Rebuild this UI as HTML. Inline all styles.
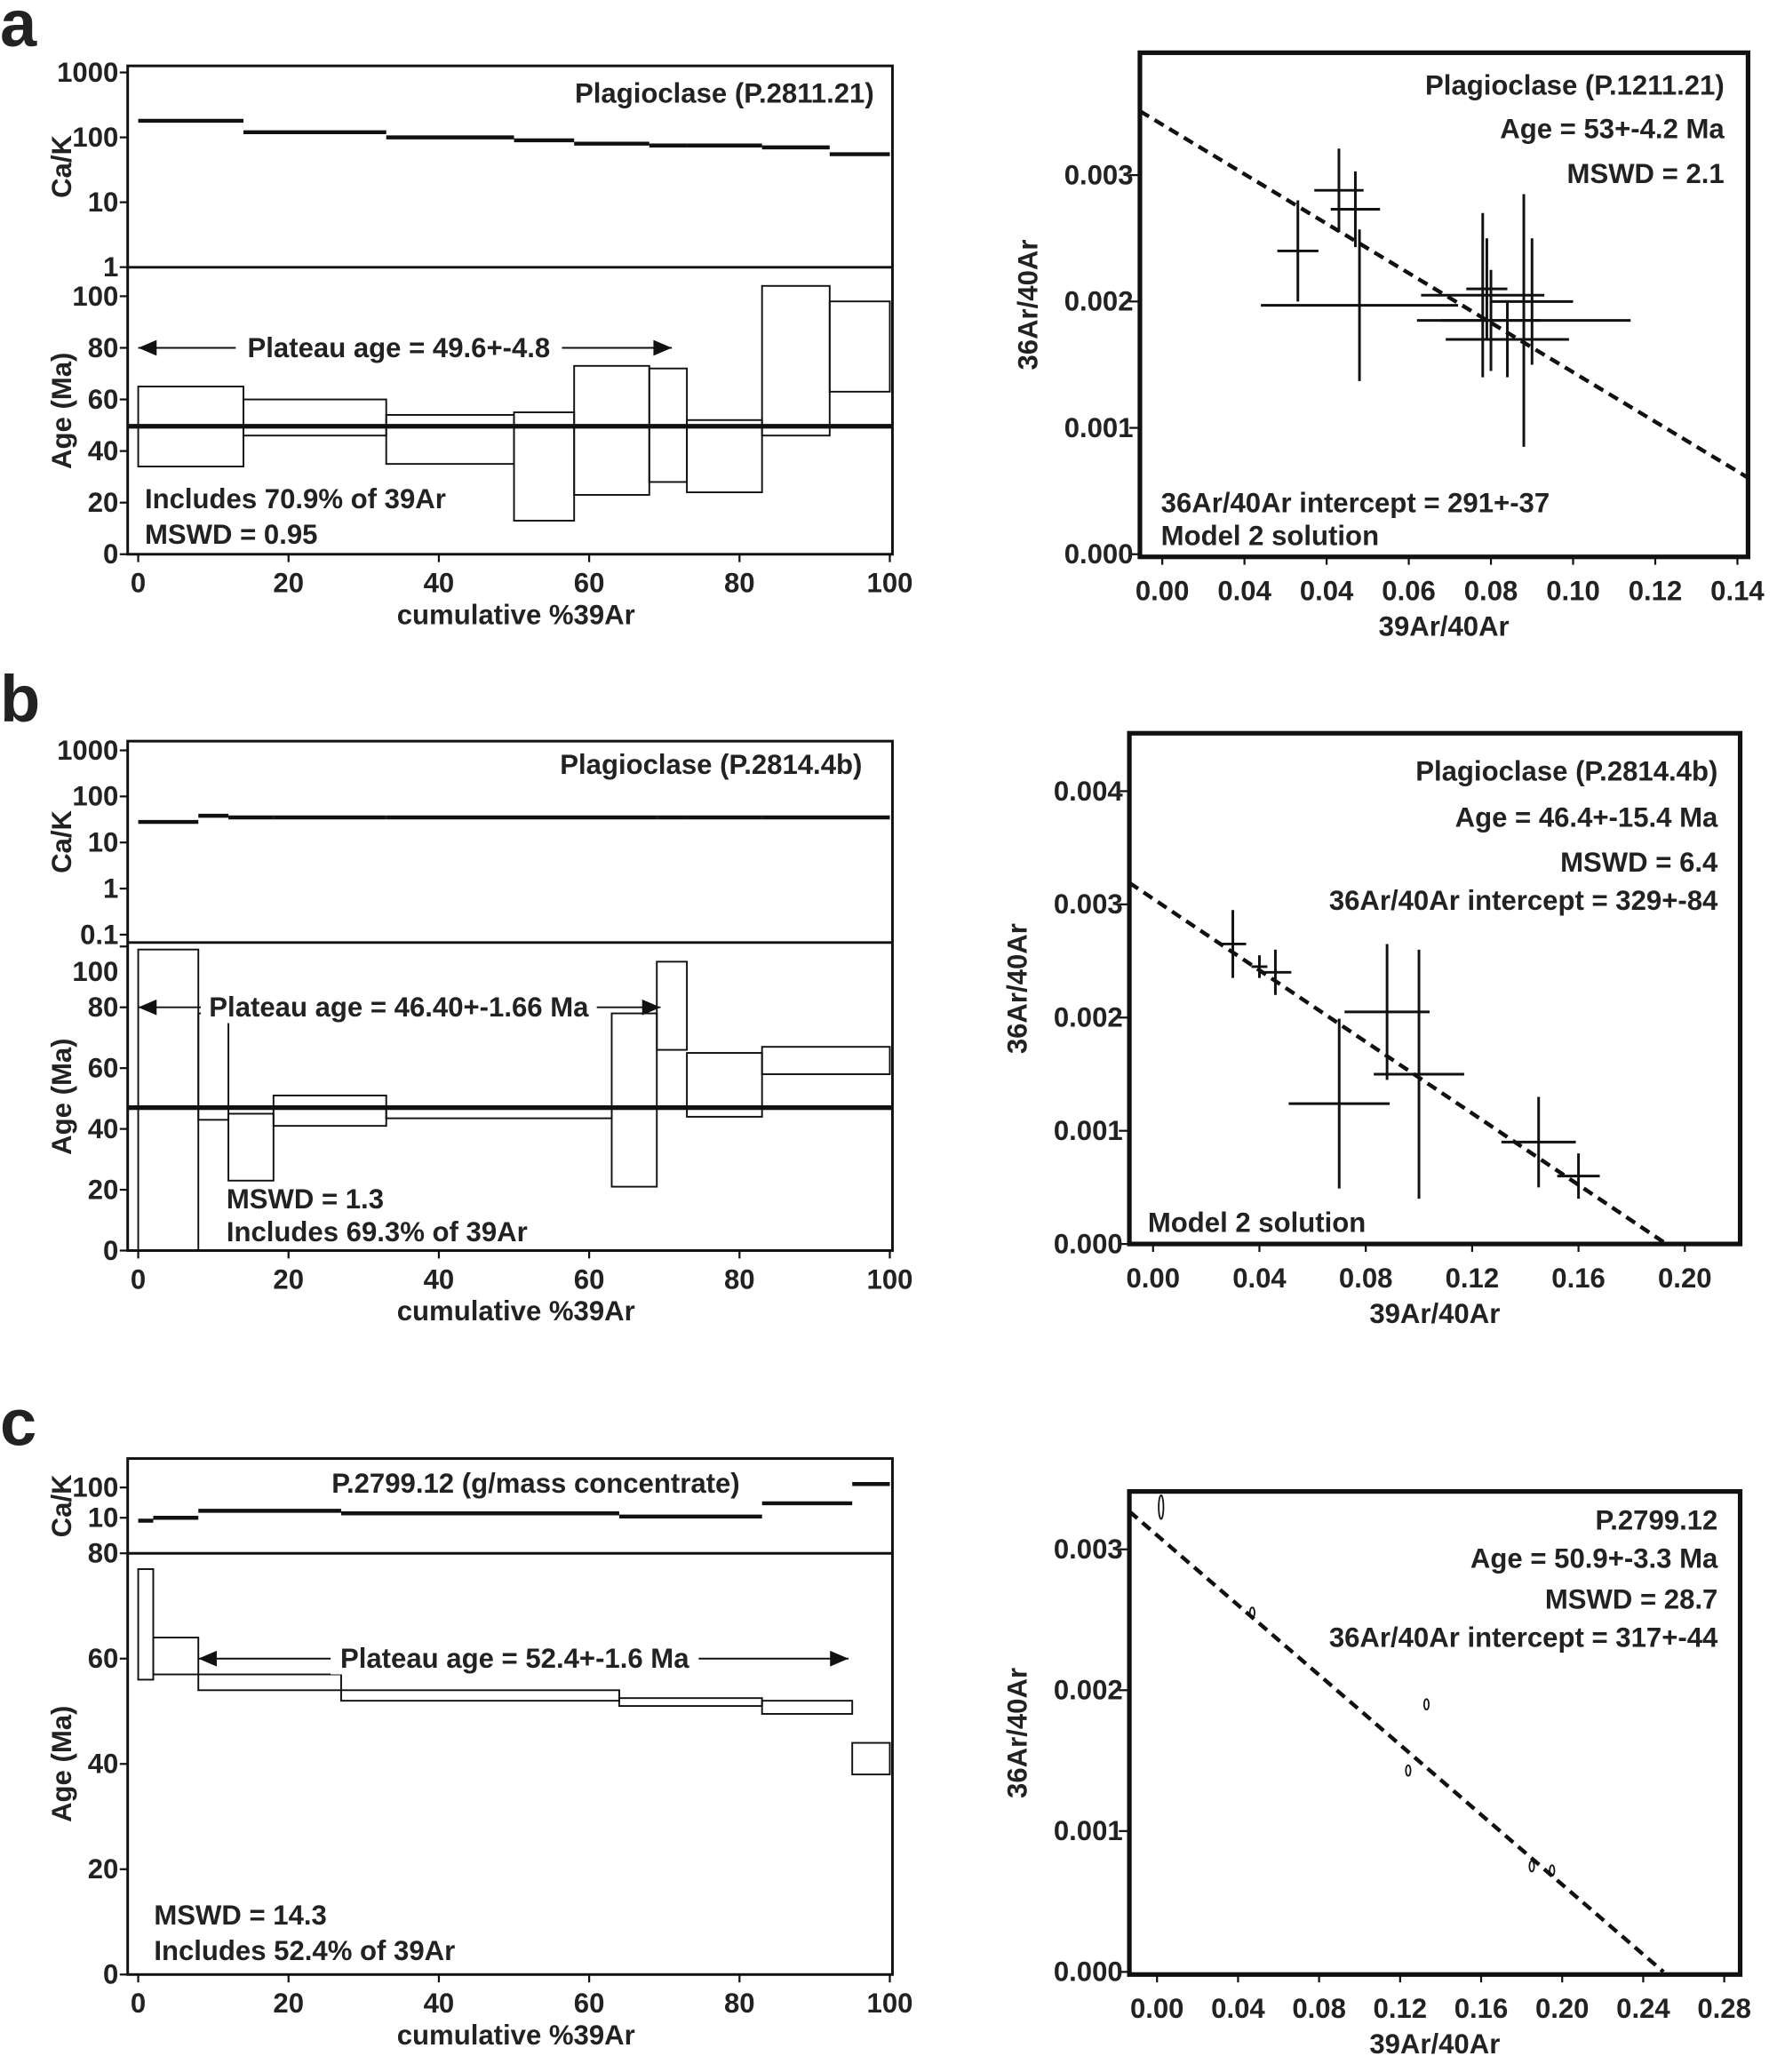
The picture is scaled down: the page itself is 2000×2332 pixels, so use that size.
<!DOCTYPE html>
<html><head><meta charset="utf-8"><style>
html,body{margin:0;padding:0;background:#fff}
svg{display:block}
text{font-family:"Liberation Sans",sans-serif;font-weight:bold;fill:#222}
</style></head><body>
<svg id="fig" width="2000" height="2332" viewBox="0 0 1350 1574" xmlns="http://www.w3.org/2000/svg"></svg>
<script>
// ---------- DATA ----------
// Panel a
const aStepFrom=[0,14,33,50,58,68,73,83,92];
const aStepTo=[14,33,50,58,68,73,83,92,100];
const aAgeLow=[34,46,35,13,23,28,24,46,63];
const aAgeHigh=[65,60,54,55,73,72,52,104,98];
const aCaK=[180,120,100,90,80,75,75,70,55];
const aPlateau=49.6;
const aIsoX=[0.033,0.043,0.047,0.048,0.078,0.079,0.080,0.084,0.088,0.090];
const aIsoXerr=[0.005,0.006,0.006,0.024,0.015,0.005,0.012,0.015,0.026,0.010];
const aIsoY=[0.0024,0.00288,0.00273,0.00197,0.00205,0.0021,0.00185,0.0017,0.00185,0.002];
const aIsoYerr=[0.0004,0.00033,0.0003,0.0006,0.00065,0.0004,0.0004,0.0003,0.001,0.0005];
const aLine=[0.00340,-0.0196];
// Panel b
const bStepFrom=[0,8,12,18,33,63,69,73,83];
const bStepTo=[8,12,18,33,63,69,73,83,100];
const bAgeLow=[0,43,23,41,43.5,21,66,44,58];
const bAgeHigh=[99,78,45,51,47,78,95,65,67];
const bCaK=[28,38,35,35,35,35,35,35,35];
const bPlateau=47;
const bIsoX=[0.030,0.040,0.046,0.070,0.088,0.100,0.145,0.160];
const bIsoXerr=[0.005,0.003,0.006,0.019,0.016,0.017,0.014,0.008];
const bIsoY=[0.00265,0.00245,0.0024,0.00124,0.00205,0.0015,0.0009,0.0006];
const bIsoYerr=[0.0003,0.0001,0.0002,0.00075,0.0006,0.0011,0.0004,0.0002];
const bLine=[0.00305,-0.0158];
// Panel c
const cStepFrom=[0,2,8,27,64,83,95];
const cStepTo=[2,8,27,64,83,95,100];
const cAgeLow=[56,57,54,52,51,49.5,38];
const cAgeHigh=[77,64,57,54,52.5,52,44];
const cCaK=[8,10,17,14,11,30,130];
const cIsoX=[0.002,0.047,0.133,0.124,0.185,0.195];
const cIsoY=[0.0033,0.00255,0.0019,0.00143,0.00075,0.00072];
const cLine=[0.0031,-0.0124];
const pctTicks=[0,20,40,60,80,100];

const svg=document.getElementById('fig');
const NS='http://www.w3.org/2000/svg';
function mk(tag,attrs,parent){const e=document.createElementNS(NS,tag);for(const k in attrs)e.setAttribute(k,attrs[k]);(parent||svg).appendChild(e);return e;}
function txt(s,x,y,opts,name){const t=mk('text',Object.assign({x:x,y:y,'font-size':21},opts||{}));t.textContent=s;


return t;}
function ln(x1,y1,x2,y2,w,name,dash){const l=mk('line',{x1:x1,y1:y1,x2:x2,y2:y2,stroke:'#111','stroke-width':w||1.5});if(dash)l.setAttribute('stroke-dasharray',dash);


return l;}

txt('a',0,35,{'font-size':50},'panel-label-a');
txt('b',0,548,{'font-size':50},'panel-label-b');
txt('c',0,1098,{'font-size':50},'panel-label-c');

function spectrum(cfg){
  const X0=97,X1=678;
  const xs=v=>105+v*5.71;
  const ys=v=>cfg.ageY0-v*cfg.agePx;
  const yc=v=>cfg.cakTopY+(Math.log10(cfg.cakTopV)-Math.log10(v))*cfg.cakDec;
  const g=mk('g',{});
  
  
  const fr=mk('rect',{x:X0,y:cfg.top,width:X1-X0,height:cfg.ageY0-cfg.top,fill:'none',stroke:'#111','stroke-width':2},g);
  
  
  g.appendChild(ln(X0,cfg.div,X1,cfg.div,2,'ca-k-age-divider'));
  cfg.cakTicks.forEach((v,i)=>{const y=yc(v);g.appendChild(ln(X0-6,y,X0,y,1.5,'ca-k-tick'));
    g.appendChild(txt(cfg.cakLabels[i],90,y+7,{'text-anchor':'end'},'ca-k-tick-label'));});
  cfg.ageTicks.forEach(v=>{let y=ys(v);g.appendChild(ln(X0-6,y,X0,y,1.5,'age-tick'));
    if(cfg.topLabelShift && v===cfg.ageTicks[cfg.ageTicks.length-1]) y+=cfg.topLabelShift;
    g.appendChild(txt(String(v),90,y+7,{'text-anchor':'end'},'age-tick-label'));});
  pctTicks.forEach(v=>{const x=xs(v);g.appendChild(ln(x,cfg.ageY0,x,cfg.ageY0+6,1.5,'x-tick'));
    g.appendChild(txt(String(v),x,cfg.ageY0+29,{'text-anchor':'middle'},'x-tick-label'));});
  g.appendChild(txt('cumulative %39Ar',392,cfg.ageY0+53,{'text-anchor':'middle'},'x-axis-title'));
  g.appendChild(txt('Ca/K',0,0,{'text-anchor':'middle',transform:`translate(54,${(cfg.top+cfg.div)/2}) rotate(-90)`},'ca-k-axis-title'));
  g.appendChild(txt('Age (Ma)',0,0,{'text-anchor':'middle',transform:`translate(54,${(cfg.div+cfg.ageY0)/2}) rotate(-90)`},'age-axis-title'));
  cfg.from.forEach((f,i)=>{const y=yc(cfg.cak[i]);g.appendChild(ln(xs(f),y,xs(cfg.to[i]),y,3,'ca-k-step'));});
  cfg.from.forEach((f,i)=>{const r=mk('rect',{x:xs(f),y:ys(cfg.hi[i]),width:xs(cfg.to[i])-xs(f),height:ys(cfg.lo[i])-ys(cfg.hi[i]),fill:'none',stroke:'#111','stroke-width':1.3},g);
    
    });
  if(cfg.plateau!=null)g.appendChild(ln(X0,ys(cfg.plateau),X1,ys(cfg.plateau),3.5,'plateau-age-line'));
  const ay=ys(cfg.arrowAge),ax1=xs(cfg.arrowFrom),ax2=xs(cfg.arrowTo);
  g.appendChild(ln(ax1,ay,ax2,ay,1.3,'plateau-arrow'));
  const p1=mk('polygon',{points:`${ax1},${ay} ${ax1+14},${ay-6} ${ax1+14},${ay+6}`,fill:'#111'},g);
  
  const p2=mk('polygon',{points:`${ax2},${ay} ${ax2-14},${ay-6} ${ax2-14},${ay+6}`,fill:'#111'},g);
  
  const tw=cfg.arrowText.length*10.6+4;const cx=cfg.arrowTextX;
  const bg=mk('rect',{x:cx-tw/2,y:ay-12,width:tw,height:24,fill:'#fff'},g);
  
  g.appendChild(txt(cfg.arrowText,cx,ay+7,{'text-anchor':'middle'},'plateau-age-label'));
  cfg.texts.forEach(t=>g.appendChild(txt(t[0],t[1],t[2],{'text-anchor':t[3]},t[4])));
  svg.appendChild(g);
}

function isochron(cfg){
  const xs=v=>cfg.x0+v*cfg.xk;
  const ys=v=>cfg.y0-v*cfg.yk;
  const g=mk('g',{});
  
  
  const fr=mk('rect',{x:cfg.L,y:cfg.T,width:cfg.R-cfg.L,height:cfg.B-cfg.T,fill:'none',stroke:'#111','stroke-width':3.5},g);
  
  cfg.yTicks.forEach(v=>{const y=ys(v);g.appendChild(ln(cfg.L-8,y,cfg.L,y,1.5,'y-tick'));
    g.appendChild(txt(v.toFixed(3),cfg.L-5,y+7,{'text-anchor':'end'},'y-tick-label'));});
  cfg.xTicks.forEach((v,i)=>{const x=xs(v);g.appendChild(ln(x,cfg.B,x,cfg.B+6,1.5,'x-tick'));
    g.appendChild(txt(cfg.xLabels[i],x,cfg.B+33,{'text-anchor':'middle'},'x-tick-label'));});
  g.appendChild(txt('39Ar/40Ar',(cfg.L+cfg.R)/2,cfg.B+60,{'text-anchor':'middle'},'x-axis-title'));
  g.appendChild(txt('36Ar/40Ar',0,0,{'text-anchor':'middle',transform:`translate(${cfg.L-78},${(cfg.T+cfg.B)/2}) rotate(-90)`},'y-axis-title'));
  const xa=(cfg.L-cfg.x0)/cfg.xk, xb=Math.min((cfg.R-cfg.x0)/cfg.xk,-cfg.line[0]/cfg.line[1]);
  g.appendChild(ln(xs(xa),ys(cfg.line[0]+cfg.line[1]*xa),xs(xb),ys(cfg.line[0]+cfg.line[1]*xb),3,'regression-line','8,5'));
  cfg.px.forEach((x,i)=>{
    if(cfg.ex){g.appendChild(ln(xs(x-cfg.ex[i]),ys(cfg.py[i]),xs(x+cfg.ex[i]),ys(cfg.py[i]),2,'data-point-x-error'));
      g.appendChild(ln(xs(x),ys(cfg.py[i]-cfg.ey[i]),xs(x),ys(cfg.py[i]+cfg.ey[i]),2,'data-point-y-error'));}
    else{const e=mk('ellipse',{cx:xs(x),cy:ys(cfg.py[i]),rx:1.8,ry:i==0?9:4,fill:'none',stroke:'#111','stroke-width':1.2},g);
      }
  });
  cfg.texts.forEach(t=>g.appendChild(txt(t[0],t[1],t[2],{'text-anchor':t[3]},t[4])));
  svg.appendChild(g);
}

spectrum({name:'panel-a-spectrum',top:50,div:203,ageY0:421,agePx:1.96,cakTopY:55,cakTopV:1000,cakDec:49.3,
  cakTicks:[1000,100,10,1],cakLabels:['1000','100','10','1'],ageTicks:[0,20,40,60,80,100],
  from:aStepFrom,to:aStepTo,lo:aAgeLow,hi:aAgeHigh,cak:aCaK,plateau:aPlateau,
  arrowAge:80,arrowFrom:0,arrowTo:71,arrowText:'Plateau age = 49.6+-4.8',arrowTextX:303,
  texts:[['Plagioclase (P.2811.21)',664,78,'end','sample-label'],['Includes 70.9% of 39Ar',110,386,'start','includes-label'],['MSWD = 0.95',110,413,'start','mswd-label']]});
isochron({name:'panel-a-isochron',L:866,R:1328,T:40,B:423,x0:883,xk:3121,y0:421,yk:96000,
  yTicks:[0,0.001,0.002,0.003],xTicks:[0,0.02,0.04,0.06,0.08,0.10,0.12,0.14],
  xLabels:['0.00','0.04','0.04','0.06','0.08','0.10','0.12','0.14'],
  line:aLine,px:aIsoX,ex:aIsoXerr,py:aIsoY,ey:aIsoYerr,
  texts:[['Plagioclase (P.1211.21)',1310,72,'end','sample-label'],['Age = 53+-4.2 Ma',1310,105,'end','age-label'],['MSWD = 2.1',1310,139,'end','mswd-label'],
  ['36Ar/40Ar intercept = 291+-37',882,389,'start','intercept-label'],['Model 2 solution',882,414,'start','model-label']]});

spectrum({name:'panel-b-spectrum',top:563,div:716,ageY0:950,agePx:2.31,cakTopY:570,cakTopV:1000,cakDec:35,
  cakTicks:[1000,100,10,1,0.1],cakLabels:['1000','100','10','1','0.1'],ageTicks:[0,20,40,60,80,100],topLabelShift:19,
  from:bStepFrom,to:bStepTo,lo:bAgeLow,hi:bAgeHigh,cak:bCaK,plateau:bPlateau,
  arrowAge:80,arrowFrom:0,arrowTo:69.5,arrowText:'Plateau age = 46.40+-1.66 Ma',arrowTextX:303,
  texts:[['Plagioclase (P.2814.4b)',655,588,'end','sample-label'],['MSWD = 1.3',172,918,'start','mswd-label'],['Includes 69.3% of 39Ar',172,943,'start','includes-label']]});
isochron({name:'panel-b-isochron',L:858,R:1322,T:557,B:945,x0:876,xk:2020,y0:945,yk:86000,
  yTicks:[0,0.001,0.002,0.003,0.004],xTicks:[0,0.04,0.08,0.12,0.16,0.20],
  xLabels:['0.00','0.04','0.08','0.12','0.16','0.20'],
  line:bLine,px:bIsoX,ex:bIsoXerr,py:bIsoY,ey:bIsoYerr,
  texts:[['Plagioclase (P.2814.4b)',1305,593,'end','sample-label'],['Age = 46.4+-15.4 Ma',1305,628,'end','age-label'],['MSWD = 6.4',1305,662,'end','mswd-label'],
  ['36Ar/40Ar intercept = 329+-84',1305,691,'end','intercept-label'],['Model 2 solution',872,936,'start','model-label']]});

spectrum({name:'panel-c-spectrum',top:1108,div:1180,ageY0:1500,agePx:4.0,cakTopY:1130,cakTopV:100,cakDec:23,
  cakTicks:[100,10],cakLabels:['100','10'],ageTicks:[0,20,40,60,80],
  from:cStepFrom,to:cStepTo,lo:cAgeLow,hi:cAgeHigh,cak:cCaK,plateau:null,
  arrowAge:60,arrowFrom:8,arrowTo:94.5,arrowText:'Plateau age = 52.4+-1.6 Ma',arrowTextX:391,
  texts:[['P.2799.12 (g/mass concentrate)',407,1134,'middle','sample-label'],['MSWD = 14.3',117,1462,'start','mswd-label'],['Includes 52.4% of 39Ar',117,1489,'start','includes-label']]});
isochron({name:'panel-c-isochron',L:858,R:1322,T:1133,B:1500,x0:879,xk:1539,y0:1498,yk:107000,
  yTicks:[0,0.001,0.002,0.003],xTicks:[0,0.04,0.08,0.12,0.16,0.20,0.24,0.28],
  xLabels:['0.00','0.04','0.08','0.12','0.16','0.20','0.24','0.28'],
  line:cLine,px:cIsoX,ex:null,py:cIsoY,ey:null,
  texts:[['P.2799.12',1305,1162,'end','sample-label'],['Age = 50.9+-3.3 Ma',1305,1191,'end','age-label'],['MSWD = 28.7',1305,1222,'end','mswd-label'],
  ['36Ar/40Ar intercept = 317+-44',1305,1251,'end','intercept-label']]});
</script>
</body></html>
